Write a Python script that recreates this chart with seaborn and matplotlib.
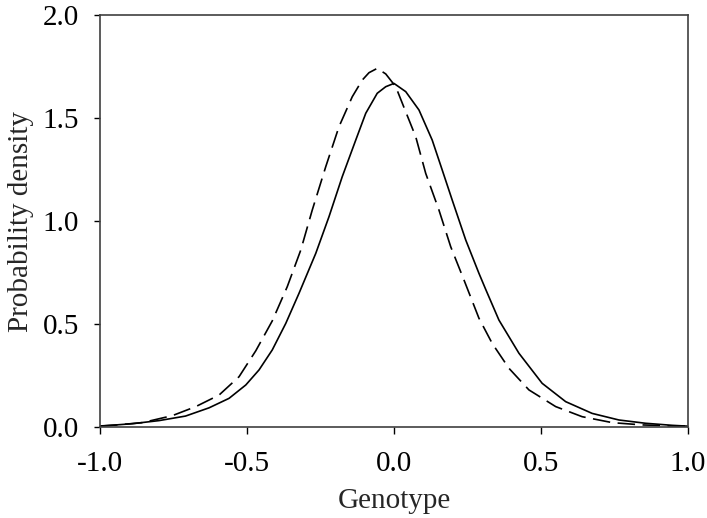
import matplotlib
matplotlib.use("Agg")
import matplotlib.pyplot as plt
import seaborn as sns

# ---- values ----
solid_x = [-1.0, -0.89, -0.799, -0.709, -0.629, -0.561, -0.504, -0.459, -0.414,
           -0.368, -0.323, -0.266, -0.221, -0.176, -0.13, -0.096, -0.057, -0.028,
           0.0, 0.04, 0.085, 0.13, 0.164, 0.198, 0.244, 0.289, 0.312, 0.357,
           0.425, 0.504, 0.584, 0.674, 0.765, 0.856, 0.947, 1.0]
solid_y = [0.004, 0.016, 0.031, 0.053, 0.093, 0.139, 0.204, 0.277, 0.374,
           0.503, 0.649, 0.843, 1.021, 1.215, 1.393, 1.523, 1.62, 1.652,
           1.668, 1.628, 1.539, 1.393, 1.248, 1.102, 0.908, 0.746, 0.668, 0.519,
           0.358, 0.212, 0.123, 0.066, 0.034, 0.018, 0.008, 0.004]

dashed_x = [-1.0, -0.95, -0.856, -0.754, -0.674, -0.595, -0.527, -0.47, -0.414,
            -0.363, -0.317, -0.278, -0.232, -0.187, -0.142, -0.108, -0.085, -0.057,
            -0.028, 0.006, 0.04, 0.074, 0.108, 0.153, 0.193, 0.238, 0.289, 0.334,
            0.391, 0.459, 0.55, 0.64, 0.743, 0.845, 0.947, 1.0]
dashed_y = [0.005, 0.009, 0.021, 0.055, 0.099, 0.155, 0.244, 0.37, 0.515,
            0.681, 0.859, 1.053, 1.264, 1.458, 1.603, 1.684, 1.72, 1.741,
            1.714, 1.652, 1.53, 1.409, 1.231, 1.053, 0.875, 0.714, 0.528, 0.406,
            0.285, 0.18, 0.099, 0.05, 0.021, 0.01, 0.005, 0.004]

x_ticks = [-1.0, -0.5, 0.0, 0.5, 1.0]
y_ticks = [0.0, 0.5, 1.0, 1.5, 2.0]

sns.set_style("ticks")
plt.rcParams['font.family'] = ['Liberation Serif', 'DejaVu Serif']
plt.rcParams['axes.unicode_minus'] = False

fig = plt.figure(figsize=(7.07, 5.18), dpi=100)
ax = fig.add_axes([0.1414, 0.1757, 0.8317, 0.7953])

sns.lineplot(x=solid_x, y=solid_y, ax=ax, color="black", linewidth=1.2)
sns.lineplot(x=dashed_x, y=dashed_y, ax=ax, color="black", linewidth=1.2,
             linestyle=(0, (10.5, 4.5)))

ax.set_xlim(-1.0, 1.0)
ax.set_ylim(0.0, 2.0)
ax.set_xticks(x_ticks)
ax.set_yticks(y_ticks)
ax.set_xticklabels([f"{t:.1f}" for t in x_ticks])
ax.set_yticklabels([f"{t:.1f}" for t in y_ticks])
ax.tick_params(direction="out", width=1, labelsize=21, colors="black")
ax.tick_params(axis="x", length=5, pad=12)
ax.tick_params(axis="y", length=4, pad=11)
for s in ax.spines.values():
    s.set_visible(True)
    s.set_color("#404040")
    s.set_linewidth(1.2)

ax.set_xlabel("Genotype", fontsize=21, labelpad=8)
ax.set_ylabel("Probability density", fontsize=21, labelpad=6)

plt.savefig("out.png", dpi=100)
